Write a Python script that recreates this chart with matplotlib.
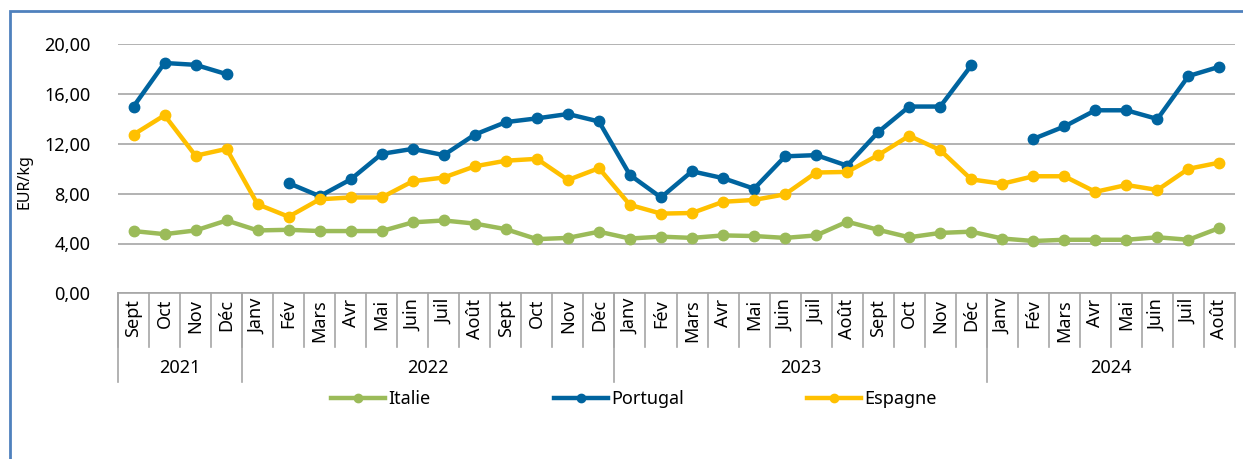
import numpy as np
import matplotlib
matplotlib.use("Agg")
import matplotlib.pyplot as plt
from matplotlib.lines import Line2D
from matplotlib.patches import Rectangle
import matplotlib.transforms as mtransforms

plt.rcParams['font.family'] = ['Noto Sans', 'DejaVu Sans']

nan = np.nan

months = ["Sept", "Oct", "Nov", "Déc",
          "Janv", "Fév", "Mars", "Avr", "Mai", "Juin", "Juil", "Août", "Sept", "Oct", "Nov", "Déc",
          "Janv", "Fév", "Mars", "Avr", "Mai", "Juin", "Juil", "Août", "Sept", "Oct", "Nov", "Déc",
          "Janv", "Fév", "Mars", "Avr", "Mai", "Juin", "Juil", "Août"]
years = ["2021", "2022", "2023", "2024"]
year_counts = [4, 12, 12, 8]

italie = [5.0, 4.75, 5.05, 5.85,
          5.05, 5.1, 5.0, 5.0, 5.0, 5.7, 5.85, 5.6, 5.15, 4.35, 4.45, 4.95,
          4.4, 4.55, 4.45, 4.65, 4.6, 4.45, 4.65, 5.75, 5.1, 4.5, 4.85, 4.95,
          4.4, 4.2, 4.3, 4.3, 4.3, 4.5, 4.3, 5.25]
portugal = [15.0, 18.5, 18.35, 17.6,
            nan, 8.85, 7.8, 9.15, 11.2, 11.6, 11.1, 12.75, 13.75, 14.05, 14.4, 13.8,
            9.5, 7.7, 9.8, 9.25, 8.4, 11.0, 11.1, 10.25, 12.95, 15.0, 15.0, 18.3,
            nan, 12.4, 13.4, 14.7, 14.7, 14.0, 17.45, 18.2]
espagne = [12.75, 14.3, 11.05, 11.6,
           7.15, 6.15, 7.55, 7.7, 7.7, 9.0, 9.3, 10.2, 10.65, 10.8, 9.1, 10.05,
           7.1, 6.4, 6.45, 7.35, 7.5, 7.95, 9.7, 9.75, 11.1, 12.65, 11.5, 9.15,
           8.8, 9.4, 9.4, 8.15, 8.7, 8.3, 10.0, 10.5]

series = [("Italie", italie, "#9BBB59"),
          ("Portugal", portugal, "#00649F"),
          ("Espagne", espagne, "#FFC000")]

W, H = 1243, 459
fig = plt.figure(figsize=(W / 100, H / 100), dpi=100)
ax = fig.add_axes([118 / W, 1 - 293.3 / H, (1235 - 118) / W, (293.3 - 44.3) / H])

x = np.arange(len(months))
for name, vals, col in series:
    ax.plot(x, vals, color=col, lw=3.2, marker="o", ms=7.5, label=name,
            solid_capstyle="round", solid_joinstyle="round")

ax.set_xlim(-0.5, len(months) - 0.5)
ax.set_ylim(0, 20)
yt = [0, 4, 8, 12, 16, 20]
ax.set_yticks(yt)
ax.set_yticklabels([f"{v:.2f}".replace(".", ",") for v in yt], fontsize=13)
ax.tick_params(axis="y", length=0, pad=20, colors="#000000")
ax.set_xticks([])
ax.grid(axis="y", color="#A6A6A6", lw=1.2)
ax.set_axisbelow(True)
for s in ["top", "right", "left"]:
    ax.spines[s].set_visible(False)
ax.spines["bottom"].set_color("#A6A6A6")
ax.spines["bottom"].set_linewidth(1.2)

# multi-level category axis
ah = 293.3 - 44.3
trans = mtransforms.blended_transform_factory(ax.transData, ax.transAxes)
month_bottom = -(346.7 - 293.3) / ah
year_bottom = -(381.7 - 293.3) / ah
for i in range(len(months) + 1):
    ax.add_line(Line2D([i - 0.5, i - 0.5], [0, month_bottom], transform=trans,
                       color="#A6A6A6", lw=1.2, clip_on=False))
for i, m in enumerate(months):
    ax.text(i, -(299 - 293.3) / ah, m, transform=trans, rotation=90,
            ha="center", va="top", fontsize=13)
start = 0
bounds = [-0.5]
for yname, cnt in zip(years, year_counts):
    ax.text(start + (cnt - 1) / 2, -(368 - 293.3) / ah, yname, transform=trans,
            ha="center", va="center", fontsize=13)
    start += cnt
    bounds.append(start - 0.5)
for b in bounds[:-1]:
    ax.add_line(Line2D([b, b], [0, year_bottom], transform=trans,
                       color="#A6A6A6", lw=1.2, clip_on=False))

fig.text(24 / W, 1 - 182 / H, "EUR/kg", rotation=90, ha="center", va="center",
         fontsize=11.5)

handles = [Line2D([], [], color=c, lw=3.2, marker="o", ms=6) for _, _, c in series]
fig.legend(handles, [n for n, _, _ in series], loc="center",
           bbox_to_anchor=(634 / W, 1 - 399 / H), ncol=3, frameon=False,
           fontsize=13, handlelength=3.0, handletextpad=0.2, columnspacing=6.8)

# outer frame
fig.patches.append(Rectangle((10 / W, -0.1), 1.2, 1 - 11 / H + 0.1,
                             transform=fig.transFigure, fill=False,
                             edgecolor="#4F81BD", lw=2.0))

fig.savefig("out.png", dpi=100)
